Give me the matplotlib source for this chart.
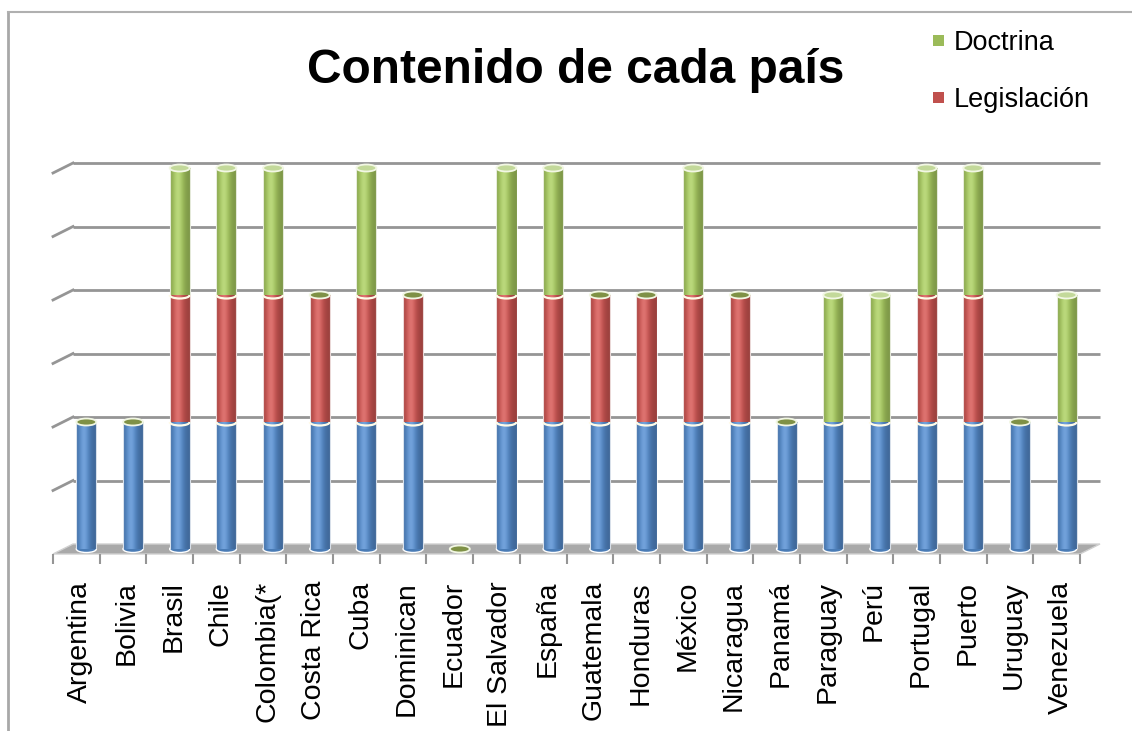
import numpy as np
import matplotlib
matplotlib.use("Agg")
import matplotlib.pyplot as plt
from matplotlib.colors import to_rgb
from matplotlib.patches import Ellipse, Arc, Polygon
from matplotlib.lines import Line2D
from matplotlib.transforms import ScaledTranslation, offset_copy, IdentityTransform

plt.rcParams["font.family"] = ["Liberation Sans", "DejaVu Sans"]

# ---------------------------------------------------------------
#  datos
# ---------------------------------------------------------------
paises = ["Argentina", "Bolivia", "Brasil", "Chile", "Colombia(*",
          "Costa Rica", "Cuba", "Dominican", "Ecuador", "El Salvador",
          "España", "Guatemala", "Honduras", "México", "Nicaragua",
          "Panamá", "Paraguay", "Perú", "Portugal", "Puerto",
          "Uruguay", "Venezuela"]

# serie azul (su entrada de leyenda queda fuera del recorte)
serie_azul  = [1, 1, 1, 1, 1, 1, 1, 1, 0, 1, 1, 1, 1, 1, 1, 1, 1, 1, 1, 1, 1, 1]
legislacion = [0, 0, 1, 1, 1, 1, 1, 1, 0, 1, 1, 1, 1, 1, 1, 0, 0, 0, 1, 1, 0, 0]
doctrina    = [0, 0, 1, 1, 1, 0, 1, 0, 0, 1, 1, 0, 0, 1, 0, 0, 1, 1, 1, 1, 0, 1]

lineas_grid = [0.5, 1.0, 1.5, 2.0, 2.5, 3.0]

AZUL, ROJO, VERDE = "#4f81bd", "#c0504d", "#9bbb59"
GRIS = "#959595"

W, H, DPI = 1132, 731, 100
ANCHO = 0.43        # ancho del cilindro (unidades de categoría)
ELIPSE = 0.055      # alto de las elipses (unidades de valor)
PROF = (10, 5)      # medio fondo del "3D" en píxeles


def perfil(color, n=80):
    """Degradado horizontal que imita un cilindro."""
    t = np.linspace(0, 1, n)
    c = np.array(to_rgb(color))
    luz = np.exp(-((t - 0.38) / 0.32) ** 2)
    sombra = 0.80 + 0.32 * luz
    rgb = np.clip(c[None, :] * sombra[:, None], 0, 1)
    rgb = rgb + (1 - rgb) * (0.15 * luz ** 3)[:, None]
    return rgb[None, :, :]


fig = plt.figure(figsize=(W / DPI, H / DPI), dpi=DPI)
ax = fig.add_axes([63 / W, (H - 549) / H, 1027 / W, 381 / H])
ax.set_xlim(-0.5, len(paises) - 0.5)
ax.set_ylim(0, 3)
for s in ax.spines.values():
    s.set_visible(False)

fondo = offset_copy(ax.transData, fig=fig, x=PROF[0], y=PROF[1], units="dots")
frente = offset_copy(ax.transData, fig=fig, x=-PROF[0], y=-PROF[1], units="dots")

# pared del fondo
ax.hlines(lineas_grid, -0.5, len(paises) - 0.5, colors=GRIS, lw=2.0,
          transform=fondo, zorder=0.5, clip_on=False)


def px(x, y, signo):
    p = ax.transData.transform((x, y))
    return p[0] + signo * PROF[0], p[1] + signo * PROF[1]


# pared lateral izquierda (solo los tramos inclinados)
for g in lineas_grid:
    a = px(-0.5, g, -1)
    b = px(-0.5, g, +1)
    ax.add_line(Line2D([a[0], b[0]], [a[1], b[1]], color=GRIS, lw=2.0,
                       transform=IdentityTransform(), clip_on=False, zorder=0.5))

# suelo
x0, x1 = -0.5, len(paises) - 0.5
suelo = [px(x0, 0, -1), px(x1, 0, -1), px(x1, 0, +1), px(x0, 0, +1)]
ax.add_patch(Polygon(suelo, closed=True, facecolor="#a9a9a9",
                     edgecolor="#d0d0d0", lw=1.0, transform=IdentityTransform(),
                     zorder=0.8, clip_on=False))
ax.vlines(np.arange(len(paises) + 1) - 0.5, -10 / 127, 0, colors=GRIS,
          lw=1.5, transform=frente, clip_on=False)

# barras apiladas
x = np.arange(len(paises))
azul = np.array(serie_azul, float)
leg = np.array(legislacion, float)
doc = np.array(doctrina, float)

c_azul = ax.bar(x, azul, ANCHO, color=AZUL, zorder=2)
c_leg = ax.bar(x, leg, ANCHO, bottom=azul, color=ROJO, zorder=2, label="Legislación")
c_doc = ax.bar(x, doc, ANCHO, bottom=azul + leg, color=VERDE, zorder=2, label="Doctrina")

for cont, col in [(c_azul, AZUL), (c_leg, ROJO), (c_doc, VERDE)]:
    img = perfil(col)
    for r in cont.patches:
        if r.get_height() <= 0:
            continue
        xa, ya = r.get_x(), r.get_y()
        ax.imshow(img, extent=(xa, xa + r.get_width(), ya, ya + r.get_height()),
                  aspect="auto", interpolation="bilinear", zorder=3)
        ax.vlines([xa, xa + r.get_width()], ya, ya + r.get_height(),
                  colors="white", lw=0.8, alpha=0.8, zorder=3.5)
        if ya > 0:
            ax.add_patch(Arc((xa + r.get_width() / 2, ya), r.get_width(), ELIPSE,
                             theta1=180, theta2=360, color="#fffbe8", lw=1.6,
                             zorder=4))

total = azul + leg + doc
for i in x:
    if azul[i] > 0:
        ax.add_patch(Ellipse((i, 0), ANCHO, ELIPSE, facecolor="#4a7cb6",
                             edgecolor="white", lw=1.0, zorder=2.5, clip_on=False))
    tapa = "#c3d99a" if doc[i] > 0 else "#7f9146"
    ax.add_patch(Ellipse((i, total[i]), ANCHO, ELIPSE, facecolor=tapa,
                         edgecolor="#f2f7e4", lw=1.3, zorder=5, clip_on=False))

ax.set_yticks([])
ax.set_xticks(x, paises, rotation=90, fontsize=20.5)
ax.tick_params(axis="x", length=0, pad=23)
for lab in ax.get_xticklabels():
    lab.set_transform(lab.get_transform() +
                      ScaledTranslation(-6 / DPI, 0, fig.dpi_scale_trans))

# título y leyenda
fig.text(576 / W, 1 - 83 / H, "Contenido de cada país", ha="center",
         va="baseline", fontsize=34.5, fontweight="bold")
fig.legend(handles=[c_doc, c_leg], labels=["Doctrina", "Legislación"],
           loc="upper left", bbox_to_anchor=(933 / W, 1 - 30 / H),
           frameon=False, fontsize=19.5, handlelength=0.42, handleheight=0.25,
           handletextpad=0.35, labelspacing=1.15, borderpad=0, borderaxespad=0)

# marco de la diapositiva
fig.add_artist(Line2D([8, 8], [0, H - 12], color="#a8a8a8", lw=2.0,
                      transform=IdentityTransform()))
fig.add_artist(Line2D([8, W], [H - 12, H - 12], color="#b0b0b0", lw=1.5,
                      transform=IdentityTransform()))

fig.savefig("out.png", dpi=DPI)
